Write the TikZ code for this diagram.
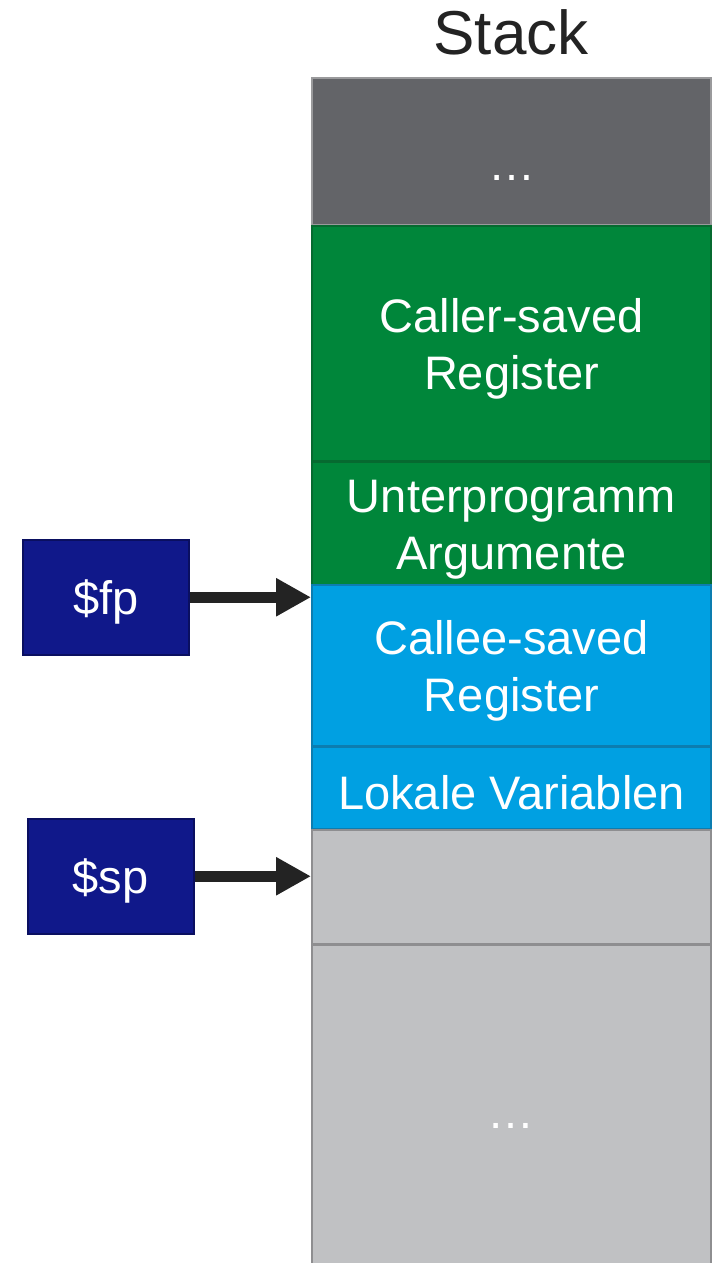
\documentclass[tikz,border=0pt]{standalone}
\usepackage{fontspec}
\setmainfont{Liberation Sans}
\usetikzlibrary{arrows.meta}
\definecolor{dgray}{HTML}{636468}
\definecolor{dgrayb}{HTML}{9A9A9C}
\definecolor{cgreen}{HTML}{00863A}
\definecolor{cgreenb}{HTML}{066A30}
\definecolor{cblue}{HTML}{00A0E2}
\definecolor{cblueb}{HTML}{0C7DB0}
\definecolor{lgray}{HTML}{C0C1C3}
\definecolor{lgrayb}{HTML}{8E8E90}
\definecolor{navy}{HTML}{10188A}
\definecolor{navyb}{HTML}{0A0F60}
\definecolor{arr}{HTML}{232323}
\newcommand{\bodyfont}{\fontsize{47}{57}\selectfont}
\newcommand{\lift}{\rule{0pt}{44pt}}
\tikzset{
  cell/.style={draw, line width=2pt, minimum width=399pt, inner sep=0pt,
    text=white, font=\bodyfont, align=center, anchor=north west},
  reg/.style={draw=navyb, fill=navy, line width=1.5pt, minimum width=166pt,
    minimum height=115pt, inner sep=0pt, text=white, font=\bodyfont, anchor=north west},
  ptr/.style={draw=arr, line width=11pt, -{Triangle[length=35pt,width=36pt]}},
  dotstxt/.style={text=white, font=\bodyfont, inner sep=0pt},
}
\begin{document}
\begin{tikzpicture}[x=1pt,y=-1pt]
\useasboundingbox (0,0) rectangle (720,1263);
\clip (0,0) rectangle (720,1263);
\fill[white] (0,0) rectangle (720,1263);
\node[font=\fontsize{62}{70}\selectfont, text=arr, anchor=base, inner sep=0pt] (title) at (511,55) {Stack};
\node[cell, fill=dgray, draw=dgrayb, minimum height=147pt] (top) at (311,77) {};
\node[dotstxt] (topdots) at ([yshift=-26pt]top.center) {…};
\node[cell, fill=cgreen, draw=cgreenb, minimum height=235pt] (caller) at (311,225) {\lift Caller-saved\\Register};
\node[cell, fill=cgreen, draw=cgreenb, minimum height=123pt] (args) at (311,461) {\lift Unterprogramm\\Argumente};
\node[cell, fill=cblue, draw=cblueb, minimum height=161pt] (callee) at (311,584) {\lift Callee-saved\\Register};
\node[cell, fill=cblue, draw=cblueb, minimum height=82pt] (lokal) at (311,746) {\lift Lokale Variablen};
\node[cell, fill=lgray, draw=lgrayb, minimum height=114pt] (free) at (311,829) {};
\node[cell, fill=lgray, draw=lgrayb, minimum height=346pt] (rest) at (311,944) {};
\node[dotstxt] (restdots) at (511,1126) {…};
\node[reg] (fp) at (22,539) {\lift\$fp};
\node[reg] (sp) at (27,818) {\lift\$sp};
\draw[ptr] (fp.east) -- (fp.east -| callee.west);
\draw[ptr] (sp.east) -- (sp.east -| free.west);
\end{tikzpicture}
\end{document}
